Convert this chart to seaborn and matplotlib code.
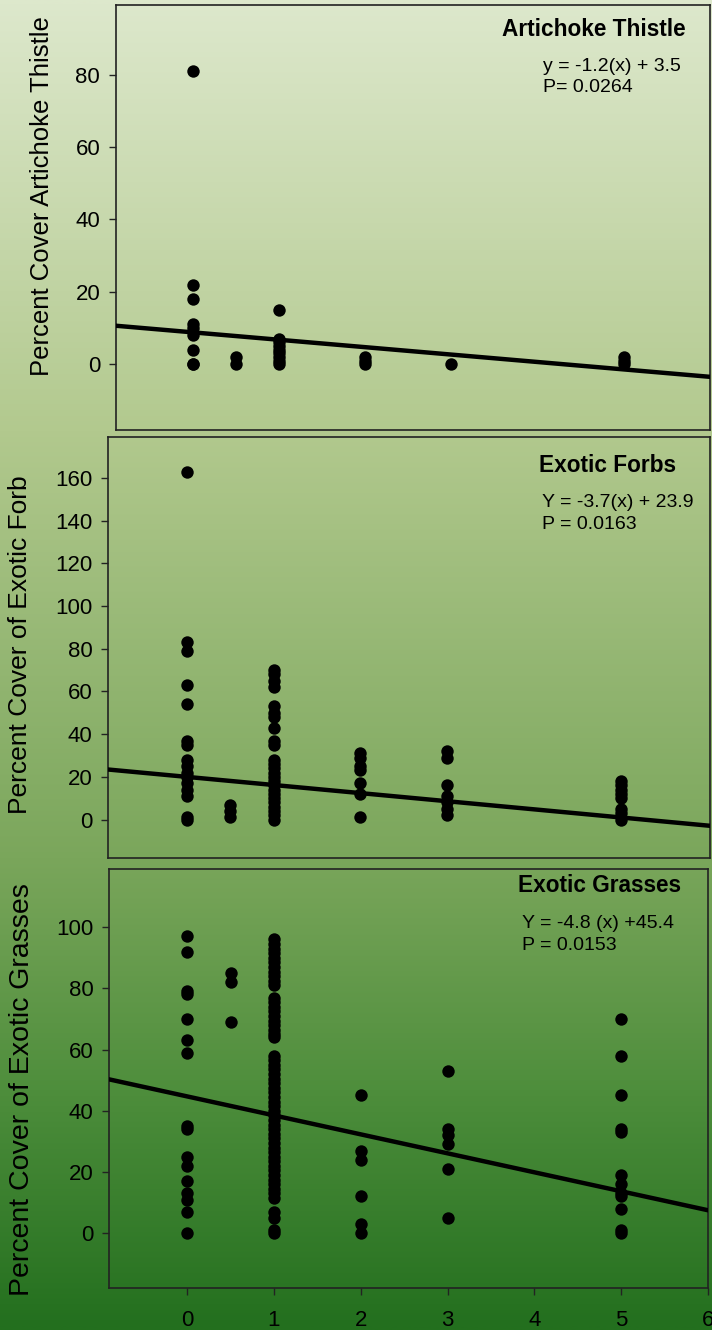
import numpy as np
import pandas as pd
import matplotlib
matplotlib.use("Agg")
import matplotlib.pyplot as plt
from matplotlib.colors import LinearSegmentedColormap
import seaborn as sns

# ---- data: distance class (x) and percent cover (y) per panel ----
thistle_x = [0, 0, 0, 0, 0, 0, 0, 0, 0,
             0.5, 0.5,
             1, 1, 1, 1, 1, 1, 1, 1, 1,
             2, 2, 2,
             3,
             5, 5, 5]
thistle_y = [81, 22, 18, 11, 10, 8, 4, 0, 0,
             2, 0,
             15, 7, 6, 5, 4, 3, 2, 1, 0,
             2, 1, 0,
             0,
             2, 1, 0]

forb_x = [0, 0, 0, 0, 0, 0, 0, 0, 0, 0, 0, 0, 0, 0, 0, 0,
          0.5, 0.5, 0.5,
          1, 1, 1, 1, 1, 1, 1, 1, 1, 1, 1, 1, 1, 1, 1, 1, 1, 1, 1, 1, 1, 1, 1, 1, 1,
          2, 2, 2, 2, 2, 2, 2,
          3, 3, 3, 3, 3, 3, 3,
          5, 5, 5, 5, 5, 5, 5, 5]
forb_y = [163, 83, 79, 63, 54, 37, 35, 28, 25, 22, 20, 17, 14, 11, 1, 0,
          7, 4, 1,
          70, 68, 65, 62, 53, 50, 48, 43, 37, 35, 28, 26, 24, 22, 20, 18, 16, 14, 12, 10, 8, 6, 4, 2, 0,
          31, 29, 25, 23, 17, 12, 1,
          32, 29, 16, 11, 8, 5, 2,
          18, 16, 14, 12, 10, 5, 3, 0]

grass_x = ([0] * 0 +
           [0, 0, 0, 0, 0, 0, 0, 0, 0, 0, 0, 0, 0, 0, 0, 0] +
           [0.5, 0.5, 0.5] +
           [1, 1, 1, 1, 1, 1, 1, 1, 1, 1, 1,
            1, 1, 1, 1, 1, 1, 1, 1, 1, 1,
            1, 1, 1, 1, 1, 1, 1, 1, 1, 1, 1, 1, 1, 1, 1, 1,
            1, 1, 1, 1, 1, 1, 1, 1, 1, 1, 1, 1, 1, 1, 1, 1,
            1, 1, 1, 1] +
           [2, 2, 2, 2, 2, 2] +
           [3, 3, 3, 3, 3, 3] +
           [5, 5, 5, 5, 5, 5, 5, 5, 5, 5, 5, 5])
grass_y = ([97, 92, 79, 78, 70, 63, 59, 35, 34, 25, 22, 17, 13, 11, 7, 0] +
           [85, 82, 69] +
           [96, 94.5, 93, 91.5, 90, 88.5, 87, 85.5, 84, 82.5, 81,
            77, 75.5, 74, 72.5, 71, 69.5, 68, 66.5, 65, 64,
            58, 56.5, 55, 53.5, 52, 50.5, 49, 47.5, 46, 44.5, 43, 41.5, 40, 38.5, 37, 35.5,
            34, 32.5, 31, 29.5, 28, 26.5, 25, 23.5, 22, 20.5, 19, 17.5, 16, 14.5, 13, 11.5,
            7, 5, 1, 0] +
           [45, 27, 24, 12, 3, 0] +
           [53, 34, 32, 29, 21, 5] +
           [70, 58, 45, 34, 33, 19, 16, 13, 12, 8, 1, 0])

# fitted trend lines as drawn on each panel
fit_slope = [-2.05, -3.8, -6.2]
fit_intercept = [8.8, 20.0, 44.7]

panel_titles = ["Artichoke Thistle", "Exotic Forbs", "Exotic Grasses"]
equation_lines = [["y = -1.2(x) + 3.5", "P= 0.0264"],
                  ["Y = -3.7(x) + 23.9", "P = 0.0163"],
                  ["Y = -4.8 (x) +45.4", "P = 0.0153"]]
y_labels = ["Percent Cover Artichoke Thistle",
            "Percent Cover of Exotic Forb",
            "Percent Cover of Exotic Grasses"]
y_ticks = [[0, 20, 40, 60, 80],
           [0, 20, 40, 60, 80, 100, 120, 140, 160],
           [0, 20, 40, 60, 80, 100]]
x_ticks = [0, 1, 2, 3, 4, 5, 6]

# ---- style ----
sns.set_theme(style="white")
plt.rcParams["font.family"] = ["Liberation Sans", "DejaVu Sans"]

W, H = 712, 1330
fig = plt.figure(figsize=(W / 100, H / 100), dpi=100)

# vertical green gradient behind everything
bg = fig.add_axes([0, 0, 1, 1], zorder=-10)
cmap = LinearSegmentedColormap.from_list(
    "sage", [(0.0, (221/255, 232/255, 204/255)),
             (0.323, (178/255, 201/255, 142/255)),
             (0.647, (122/255, 166/255, 91/255)),
             (0.82, (78/255, 142/255, 60/255)),
             (1.0, (35/255, 111/255, 30/255))])
grad = np.linspace(0, 1, 512).reshape(-1, 1)
bg.imshow(grad, aspect="auto", cmap=cmap, extent=[0, 1, 0, 1], origin="upper")
bg.set_axis_off()

def px_box(left, right, top, bottom):
    return [left / W, 1 - bottom / H, (right - left) / W, (bottom - top) / H]

boxes = [px_box(115.5, 710, 5, 430),
         px_box(108, 710, 437, 858),
         px_box(109, 708, 869, 1288)]
ylims = [(-18.2, 99.3), (-18.0, 179.2), (-17.9, 119.0)]
xlims = [(-0.895, 6.0), (-0.909, 6.03), (-0.9, 6.0)]
datasets = [(thistle_x, thistle_y), (forb_x, forb_y), (grass_x, grass_y)]

# text anchors in pixels
title_pos = [(686, 30), (676, 465), (681, 885)]
eq_left = [543, 542, 522]
eq_rows = [(66.7, 87.0), (502.7, 524.3), (923.3, 946.0)]
ylabel_pos = [(42, 196), (20, 645), (22, 1090)]
ylabel_size = [18.5, 19, 20.5]

for i in range(3):
    ax = fig.add_axes(boxes[i])
    ax.set_facecolor("none")
    xs, ys = datasets[i]
    df = pd.DataFrame({"x": xs, "y": ys})
    ax.set_xlim(*xlims[i])
    ax.set_ylim(*ylims[i])

    sns.scatterplot(data=df, x="x", y="y", ax=ax, color="black", s=80,
                    linewidth=0, zorder=3, legend=False)

    xl = np.array(ax.get_xlim())
    line_df = pd.DataFrame({"x": xl, "y": fit_intercept[i] + fit_slope[i] * xl})
    sns.lineplot(data=line_df, x="x", y="y", ax=ax, color="black", lw=3.2,
                 zorder=4, legend=False)
    ax.set_xlim(*xlims[i])
    ax.set_ylim(*ylims[i])

    ax.set_yticks(y_ticks[i])
    ax.set_yticklabels([str(t) for t in y_ticks[i]])
    if i == 2:
        ax.set_xticks(x_ticks)
        ax.set_xticklabels([str(t) for t in x_ticks])
    else:
        ax.set_xticks([])
    ax.tick_params(axis="both", which="both", direction="out", length=5,
                   width=1, color="#222222", labelsize=16, labelcolor="black",
                   pad=6, left=True, bottom=(i == 2))
    ax.tick_params(axis="x", pad=10.5)
    ax.set_xlabel("")
    ax.set_ylabel("")
    for sp in ax.spines.values():
        sp.set_visible(True)
        sp.set_color("#222222")
        sp.set_linewidth(1.2)

    fig.text(title_pos[i][0] / W, 1 - title_pos[i][1] / H, panel_titles[i],
             ha="right", va="center", fontsize=16.3, fontweight="bold",
             color="black")
    for line, yy in zip(equation_lines[i], eq_rows[i]):
        fig.text(eq_left[i] / W, 1 - yy / H, line, ha="left", va="center",
                 fontsize=14, color="black")
    fig.text(ylabel_pos[i][0] / W, 1 - ylabel_pos[i][1] / H, y_labels[i],
             ha="center", va="center", rotation=90,
             fontsize=ylabel_size[i], color="black")

fig.savefig("out.png", dpi=100)
